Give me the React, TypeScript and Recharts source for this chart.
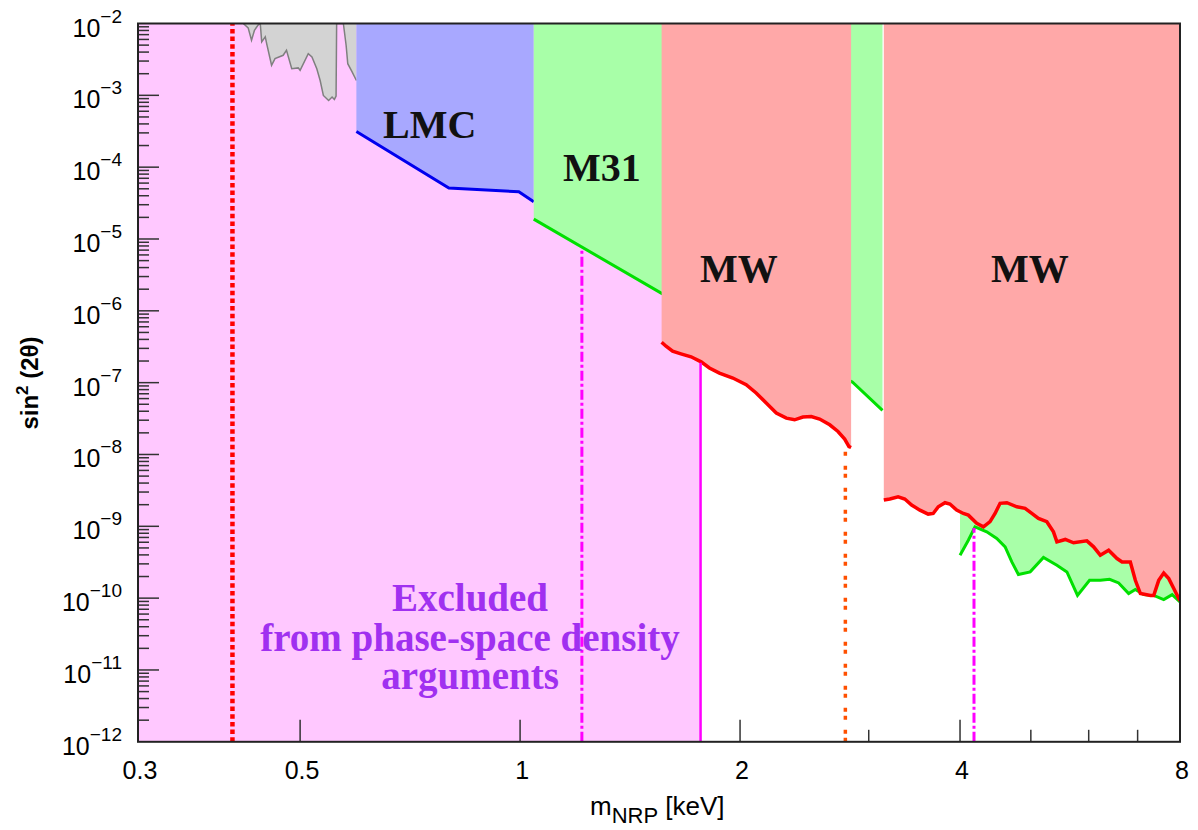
import { ComposedChart, Area, Line, XAxis, YAxis } from "recharts";

const X_MIN = 0.3;
const X_MAX = 8;
const Y_MIN = 1e-12;
const Y_MAX = 1e-2;

const SANS = "'Liberation Sans', Arial, Helvetica, sans-serif";
const SERIF = "'Liberation Serif', 'Times New Roman', Times, serif";

// x axis: mass in keV
const xTicks = [0.3, 0.5, 1, 2, 3, 4, 5, 6, 7, 8];
const xLabels = [0.3, 0.5, 1, 2, 4, 8];
const xMajor = [0.5, 1, 2, 4];

// y axis: decades with minor ticks 2..9
const decades = [-12, -11, -10, -9, -8, -7, -6, -5, -4, -3, -2];
const yTicks: number[] = [];
decades.forEach((d) => {
  yTicks.push(Math.pow(10, d));
  if (d < -2) {
    for (let k = 2; k <= 9; k++) yTicks.push(k * Math.pow(10, d));
  }
});

// phase-space density exclusion (whole height)
const phaseMass = [0.3, 1.766];
const phaseSin = [1e-12, 1e-12];

// grey X-ray background bound
const greyMass = [
  0.418, 0.4245, 0.429, 0.433, 0.438, 0.441, 0.443, 0.448, 0.45, 0.457, 0.462,
  0.474, 0.479, 0.487, 0.497, 0.5, 0.513, 0.519, 0.527, 0.5326, 0.538, 0.547,
  0.553, 0.557, 0.56, 0.561, 0.573, 0.578, 0.581, 0.589, 0.597,
];
const greySin = [
  1e-2, 8.7e-3, 5.85e-3, 8.06e-3, 9.5e-3, 1e-2, 5.55e-3, 6.52e-3, 5.26e-3,
  2.62e-3, 3.24e-3, 3.61e-3, 4.24e-3, 2.35e-3, 2.41e-3, 2.23e-3, 3.81e-3,
  3.43e-3, 2.35e-3, 1.61e-3, 9.97e-4, 8.49e-4, 9.47e-4, 8.77e-4, 9.78e-4, 1e-2,
  1e-2, 4.98e-3, 2.76e-3, 2.12e-3, 1.61e-3,
];

// LMC
const lmcMass = [0.597, 0.799, 0.996, 1.044];
const lmcSin = [3.13e-4, 5.12e-5, 4.55e-5, 3.3e-5];

// M31
const m31Mass = [1.044, 1.562, 2.849, 3.133];
const m31Sin = [1.89e-5, 1.75e-6, 1.02e-7, 4.1e-8];

// second green bound at high mass
const greenHighMass = [
  4.0, 4.106, 4.193, 4.351, 4.491, 4.611, 4.709, 4.808, 4.99, 5.203, 5.428,
  5.602, 5.792, 6.016, 6.223, 6.408, 6.594, 6.805, 6.95, 7.135, 7.364, 7.6,
  7.805, 8.0,
];
const greenHighSin = [
  3.96e-10, 6.41e-10, 9.84e-10, 8.38e-10, 6.78e-10, 5.18e-10, 3.19e-10,
  2.13e-10, 2.32e-10, 3.68e-10, 2.87e-10, 2.32e-10, 1.09e-10, 1.77e-10,
  1.77e-10, 1.83e-10, 1.63e-10, 1.16e-10, 1.32e-10, 1.12e-10, 1.09e-10,
  9.53e-11, 1.12e-10, 8.83e-11,
];

// Milky Way, low-mass window
const mwLowMass = [
  1.562, 1.584, 1.617, 1.66, 1.714, 1.769, 1.816, 1.874, 1.955, 2.039, 2.104,
  2.172, 2.242, 2.314, 2.375, 2.438, 2.503, 2.57, 2.653, 2.723, 2.781, 2.819,
  2.838,
];
const mwLowSin = [
  3.66e-7, 3.21e-7, 2.74e-7, 2.52e-7, 2.29e-7, 1.95e-7, 1.6e-7, 1.36e-7,
  1.16e-7, 9.38e-8, 7.18e-8, 5.21e-8, 3.78e-8, 3.21e-8, 3.04e-8, 3.32e-8,
  3.38e-8, 3.11e-8, 2.59e-8, 2.09e-8, 1.64e-8, 1.29e-8, 1.25e-8,
];

// Milky Way, high-mass window
const mwHighMass = [
  3.146, 3.206, 3.291, 3.361, 3.434, 3.525, 3.618, 3.676, 3.735, 3.815, 3.875,
  3.958, 4.042, 4.106, 4.216, 4.306, 4.397, 4.467, 4.538, 4.636, 4.784, 4.91,
  5.015, 5.121, 5.258, 5.369, 5.428, 5.573, 5.72, 5.966, 6.093, 6.223, 6.389,
  6.56, 6.665, 6.841, 6.95, 7.061, 7.289, 7.364, 7.481, 7.6, 7.722, 7.844,
  7.97, 8.0,
];
const mwHighSin = [
  2.32e-9, 2.4e-9, 2.58e-9, 2.4e-9, 1.98e-9, 1.68e-9, 1.48e-9, 1.51e-9,
  1.87e-9, 2.13e-9, 2.04e-9, 1.68e-9, 1.51e-9, 1.43e-9, 1.1e-9, 9.84e-10,
  1.16e-9, 1.51e-9, 2.09e-9, 2.13e-9, 1.87e-9, 1.78e-9, 1.51e-9, 1.29e-9,
  1.16e-9, 8.38e-10, 6.07e-10, 6.56e-10, 5.89e-10, 6.27e-10, 5.18e-10,
  3.96e-10, 4.65e-10, 3.56e-10, 3.19e-10, 3.19e-10, 1.77e-10, 1.16e-10,
  1.09e-10, 1.09e-10, 1.77e-10, 2.24e-10, 1.87e-10, 1.36e-10, 9.84e-11,
  9.3e-11,
];

// vertical limit markers: mass and upper end
const markerMass = [0.404, 1.215, 1.766, 2.787, 4.18];
const markerTop = [1e-2, 7.5e-6, 1.9e-7, 1.1e-8, 9.5e-10];
const markerStyle = [
  { stroke: "#ff0000", width: 4.5, dash: "4.5 3.2" },
  { stroke: "#ff00ff", width: 3, dash: "10 3 3 3" },
  { stroke: "#ff00ff", width: 2.5, dash: undefined },
  { stroke: "#ff5000", width: 3.5, dash: "4 4 4 10" },
  { stroke: "#ff00ff", width: 3, dash: "10 3 3 3" },
];

const rows = (xs: number[], ys: number[]) =>
  xs.map((x, i) => ({ x, y: ys[i] }));

const XTick = (props: any) => {
  const { x, y, payload } = props;
  const v = payload.value as number;
  const len = xMajor.includes(v) ? 22 : 12;
  const inner = v > X_MIN && v < X_MAX;
  return (
    <g>
      {inner && (
        <line x1={x} x2={x} y1={y} y2={y - len} stroke="#333" strokeWidth={1.5} />
      )}
      {xLabels.includes(v) && (
        <text
          x={x + 2}
          y={y + 37}
          textAnchor="middle"
          fontSize={25}
          fontFamily={SANS}
          fill="#000"
        >
          {String(v)}
        </text>
      )}
    </g>
  );
};

const YTick = (props: any) => {
  const { x, y, payload } = props;
  const v = payload.value as number;
  const lg = Math.log10(v);
  const exp = Math.round(lg);
  const major = Math.abs(lg - exp) < 1e-6;
  const inner = v > Y_MIN * 1.001 && v < Y_MAX / 1.001;
  return (
    <g>
      {inner && (
        <line
          x1={x}
          x2={x + (major ? 21 : 11)}
          y1={y}
          y2={y}
          stroke="#333"
          strokeWidth={1.5}
        />
      )}
      {major && (
        <text
          x={x - 16}
          y={y + 13}
          textAnchor="end"
          fontSize={25}
          fontFamily={SANS}
          fill="#000"
        >
          10
          <tspan dy={-14} fontSize={19}>
            {"\u2212" + Math.abs(exp)}
          </tspan>
        </text>
      )}
    </g>
  );
};

export default function App() {
  const fillArea = (
    key: string,
    xs: number[],
    ys: number[],
    fill: string,
    stroke: string,
    strokeWidth: number
  ) => (
    <Area
      key={key}
      data={rows(xs, ys)}
      dataKey="y"
      type="linear"
      baseValue={Y_MAX}
      fill={fill}
      fillOpacity={1}
      stroke={stroke}
      strokeWidth={strokeWidth}
      dot={false}
      activeDot={false}
      isAnimationActive={false}
    />
  );

  return (
    <div style={{ position: "absolute", left: 0, top: 0, width: 1198, height: 830 }}>
      <ComposedChart
        width={1198}
        height={830}
        margin={{ top: 23.5, right: 18, bottom: 87.2, left: 137 }}
      >
        {fillArea("phase", phaseMass, phaseSin, "#ffc8ff", "none", 0)}
        {fillArea("grey", greyMass, greySin, "#d3d3d3", "#7f7f7f", 1.5)}
        {fillArea("lmc", lmcMass, lmcSin, "#a8a8ff", "#0000ee", 3)}
        {fillArea("m31", m31Mass, m31Sin, "#a8ffa8", "#00e000", 3)}
        {fillArea("greenHigh", greenHighMass, greenHighSin, "#a8ffa8", "#00e000", 3)}
        {fillArea("mwLow", mwLowMass, mwLowSin, "#ffa8a8", "#ff0000", 3.5)}
        {fillArea("mwHigh", mwHighMass, mwHighSin, "#ffa8a8", "#ff0000", 3.5)}

        {markerMass.map((m, i) => (
          <Line
            key={"marker" + i}
            data={[
              { x: m, y: Y_MIN },
              { x: m, y: markerTop[i] },
            ]}
            dataKey="y"
            type="linear"
            stroke={markerStyle[i].stroke}
            strokeWidth={markerStyle[i].width}
            strokeDasharray={markerStyle[i].dash}
            dot={false}
            activeDot={false}
            isAnimationActive={false}
          />
        ))}

        <XAxis
          dataKey="x"
          type="number"
          scale="log"
          domain={[X_MIN, X_MAX]}
          allowDataOverflow
          ticks={xTicks}
          interval={0}
          tick={<XTick />}
          tickSize={0}
          tickMargin={0}
          tickLine={false}
          axisLine={false}
          height={1}
        />
        <YAxis
          type="number"
          scale="log"
          domain={[Y_MIN, Y_MAX]}
          allowDataOverflow
          ticks={yTicks}
          interval={0}
          tick={<YTick />}
          tickSize={0}
          tickMargin={0}
          tickLine={false}
          axisLine={false}
          width={1}
        />
      </ComposedChart>

      <svg
        width={1198}
        height={830}
        style={{ position: "absolute", left: 0, top: 0, pointerEvents: "none" }}
      >
        <rect
          x={138}
          y={23.5}
          width={1042}
          height={718.3}
          fill="none"
          stroke="#222"
          strokeWidth={2}
        />
        <g fontFamily={SERIF} fontWeight="bold" fontSize={40} fill="#111">
          <text x={383} y={138}>LMC</text>
          <text x={563} y={181}>M31</text>
          <text x={700} y={282}>MW</text>
          <text x={991} y={282}>MW</text>
        </g>
        <g
          fontFamily={SERIF}
          fontWeight="bold"
          fontSize={39}
          fill="#a030f0"
          textAnchor="middle"
        >
          <text x={470} y={611}>Excluded</text>
          <text x={470} y={651}>from phase-space density</text>
          <text x={470} y={689}>arguments</text>
        </g>
        <text
          transform="translate(38 383) rotate(-90)"
          textAnchor="middle"
          fontFamily={SANS}
          fontWeight="bold"
          fontSize={24}
          fill="#000"
        >
          sin
          <tspan dy={-10} fontSize={17}>2</tspan>
          <tspan dy={10}> (2θ)</tspan>
        </text>
        <text x={590} y={815} fontFamily={SANS} fontSize={26} fill="#000">
          m
          <tspan dy={8} fontSize={22}>NRP</tspan>
          <tspan dy={-8}> [keV]</tspan>
        </text>
      </svg>
    </div>
  );
}
